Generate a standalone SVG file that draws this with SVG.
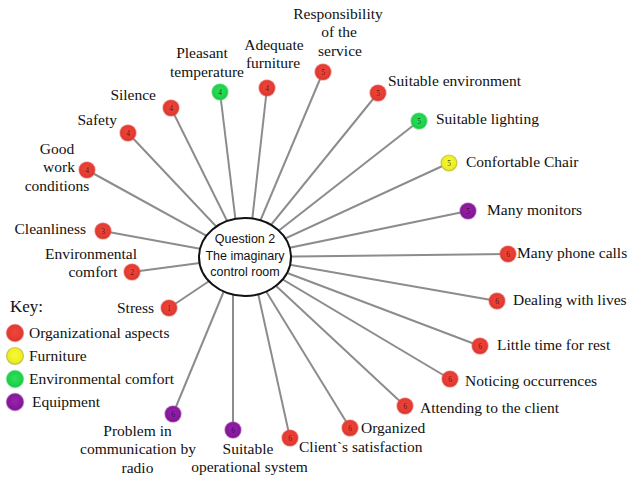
<svg xmlns="http://www.w3.org/2000/svg" width="628" height="479" viewBox="0 0 628 479">
<style>
.conn{stroke:#8c8c8c;stroke-width:2;fill:none}
text.lbl{font-family:'Liberation Serif','Times New Roman',Times,serif;font-size:15.5px;fill:#111}
text.num{font-family:'Liberation Serif',Times,serif;font-size:7.5px;text-anchor:middle}
.red{fill:url(#gRed);stroke:#e9554d;stroke-opacity:0.5;stroke-width:1.5}
.grn{fill:url(#gGrn);stroke:#3ee06a;stroke-opacity:0.5;stroke-width:1.5}
.yel{fill:url(#gYel);stroke:#b8b840;stroke-opacity:0.7;stroke-width:1.2}
.pur{fill:url(#gPur);stroke:#9a3aaa;stroke-opacity:0.5;stroke-width:1.5}
.nr{fill:#6a1010}.ng{fill:#0a4a1a}.ny{fill:#4a4a00}.np{fill:#3a0a40}
text.ctr{font-family:'Liberation Sans',Arial,sans-serif;font-size:12.5px;fill:#111;text-anchor:middle}
</style>
<defs>
<radialGradient id="gRed" cx="50%" cy="45%" r="55%"><stop offset="0" stop-color="#f0473c"/><stop offset="0.75" stop-color="#e33a31"/><stop offset="1" stop-color="#c8322c"/></radialGradient>
<radialGradient id="gGrn" cx="50%" cy="45%" r="55%"><stop offset="0" stop-color="#2fe05a"/><stop offset="0.75" stop-color="#1ed04a"/><stop offset="1" stop-color="#18b840"/></radialGradient>
<radialGradient id="gYel" cx="50%" cy="45%" r="55%"><stop offset="0" stop-color="#f8f83a"/><stop offset="0.75" stop-color="#eeee22"/><stop offset="1" stop-color="#d4d41e"/></radialGradient>
<radialGradient id="gPur" cx="50%" cy="45%" r="55%"><stop offset="0" stop-color="#9a22aa"/><stop offset="0.75" stop-color="#86189a"/><stop offset="1" stop-color="#701088"/></radialGradient>
</defs>
<rect width="628" height="479" fill="#fff"/>
<g id="connectors">
<line class="conn" x1="169" y1="308" x2="245" y2="257"/>
<line class="conn" x1="132" y1="272" x2="245" y2="257"/>
<line class="conn" x1="103" y1="231" x2="245" y2="257"/>
<line class="conn" x1="87" y1="170" x2="245" y2="257"/>
<line class="conn" x1="128" y1="133" x2="245" y2="257"/>
<line class="conn" x1="171" y1="108" x2="245" y2="257"/>
<line class="conn" x1="220" y1="92" x2="240" y2="257"/>
<line class="conn" x1="267" y1="88" x2="248" y2="257"/>
<line class="conn" x1="323" y1="72" x2="245" y2="257"/>
<line class="conn" x1="378" y1="93" x2="245" y2="257"/>
<line class="conn" x1="419" y1="121" x2="245" y2="257"/>
<line class="conn" x1="449" y1="163" x2="245" y2="257"/>
<line class="conn" x1="468" y1="211" x2="245" y2="257"/>
<line class="conn" x1="508" y1="254" x2="245" y2="257"/>
<line class="conn" x1="497" y1="301" x2="245" y2="257"/>
<line class="conn" x1="480" y1="346" x2="245" y2="257"/>
<line class="conn" x1="450" y1="379" x2="245" y2="257"/>
<line class="conn" x1="405" y1="406" x2="245" y2="257"/>
<line class="conn" x1="350" y1="428" x2="245" y2="257"/>
<line class="conn" x1="290" y1="438" x2="250" y2="257"/>
<line class="conn" x1="233" y1="430" x2="233" y2="257"/>
<line class="conn" x1="173" y1="414" x2="238" y2="257"/>
</g>
<g id="center">
<ellipse cx="245" cy="257" rx="46" ry="39" fill="#fff" stroke="#111" stroke-width="2"/>
<text class="ctr" x="245" y="243">Question 2</text>
<text class="ctr" x="245" y="260">The imaginary</text>
<text class="ctr" x="245" y="276">control room</text>
</g>
<g font-family="Liberation Serif, Times New Roman, serif">
<g id="n-stress"><circle class="red" cx="169" cy="308" r="8"/><text class="num nr" x="169" y="310.5">1</text><text class="lbl" x="154" y="313" text-anchor="end">Stress</text></g>
<g id="n-envcomfort"><circle class="red" cx="132" cy="272" r="8"/><text class="num nr" x="132" y="274.5">2</text><text class="lbl" x="91" y="259" text-anchor="middle">Environmental</text><text class="lbl" x="93" y="277" text-anchor="middle">comfort</text></g>
<g id="n-cleanliness"><circle class="red" cx="103" cy="231" r="8"/><text class="num nr" x="103" y="233.5">3</text><text class="lbl" x="86" y="234" text-anchor="end">Cleanliness</text></g>
<g id="n-goodwork"><circle class="red" cx="87" cy="170" r="8"/><text class="num nr" x="87" y="172.5">4</text><text class="lbl" x="57" y="154" text-anchor="middle">Good</text><text class="lbl" x="59" y="172" text-anchor="middle">work</text><text class="lbl" x="57" y="191" text-anchor="middle">conditions</text></g>
<g id="n-safety"><circle class="red" cx="128" cy="133" r="8"/><text class="num nr" x="128" y="135.5">4</text><text class="lbl" x="117" y="125" text-anchor="end">Safety</text></g>
<g id="n-silence"><circle class="red" cx="171" cy="108" r="8"/><text class="num nr" x="171" y="110.5">4</text><text class="lbl" x="156" y="100" text-anchor="end">Silence</text></g>
<g id="n-pleasant"><circle class="grn" cx="220" cy="92" r="8"/><text class="num ng" x="220" y="94.5">4</text><text class="lbl" x="202" y="58" text-anchor="middle">Pleasant</text><text class="lbl" x="207" y="77" text-anchor="middle">temperature</text></g>
<g id="n-furniture"><circle class="red" cx="267" cy="88" r="8"/><text class="num nr" x="267" y="90.5">4</text><text class="lbl" x="274" y="50" text-anchor="middle">Adequate</text><text class="lbl" x="273" y="68" text-anchor="middle">furniture</text></g>
<g id="n-responsibility"><circle class="red" cx="323" cy="72" r="8"/><text class="num nr" x="323" y="74.5">5</text><text class="lbl" x="338" y="19" text-anchor="middle">Responsibility</text><text class="lbl" x="339" y="37" text-anchor="middle">of the</text><text class="lbl" x="340" y="56" text-anchor="middle">service</text></g>
<g id="n-suitenv"><circle class="red" cx="378" cy="93" r="8"/><text class="num nr" x="378" y="95.5">5</text><text class="lbl" x="388" y="86">Suitable environment</text></g>
<g id="n-lighting"><circle class="grn" cx="419" cy="121" r="8"/><text class="num ng" x="419" y="123.5">5</text><text class="lbl" x="436" y="124">Suitable lighting</text></g>
<g id="n-chair"><circle class="yel" cx="449" cy="163" r="8"/><text class="num ny" x="449" y="165.5">5</text><text class="lbl" x="466" y="167">Confortable Chair</text></g>
<g id="n-monitors"><circle class="pur" cx="468" cy="211" r="8"/><text class="num np" x="468" y="213.5">5</text><text class="lbl" x="487" y="215">Many monitors</text></g>
<g id="n-phone"><circle class="red" cx="508" cy="254" r="8"/><text class="num nr" x="508" y="256.5">6</text><text class="lbl" x="517" y="258">Many phone calls</text></g>
<g id="n-lives"><circle class="red" cx="497" cy="301" r="8"/><text class="num nr" x="497" y="303.5">6</text><text class="lbl" x="513" y="305">Dealing with lives</text></g>
<g id="n-rest"><circle class="red" cx="480" cy="346" r="8"/><text class="num nr" x="480" y="348.5">6</text><text class="lbl" x="497" y="350">Little time for rest</text></g>
<g id="n-noticing"><circle class="red" cx="450" cy="379" r="8"/><text class="num nr" x="450" y="381.5">6</text><text class="lbl" x="465" y="386">Noticing occurrences</text></g>
<g id="n-attending"><circle class="red" cx="405" cy="406" r="8"/><text class="num nr" x="405" y="408.5">6</text><text class="lbl" x="420" y="413">Attending to the client</text></g>
<g id="n-organized"><circle class="red" cx="350" cy="428" r="8"/><text class="num nr" x="350" y="430.5">6</text><text class="lbl" x="361" y="433">Organized</text></g>
<g id="n-client"><circle class="red" cx="290" cy="438" r="8"/><text class="num nr" x="290" y="440.5">6</text><text class="lbl" x="299" y="452">Client`s satisfaction</text></g>
<g id="n-opsystem"><circle class="pur" cx="233" cy="430" r="8"/><text class="num np" x="233" y="432.5">6</text><text class="lbl" x="248" y="454" text-anchor="middle">Suitable</text><text class="lbl" x="249.5" y="472" text-anchor="middle">operational system</text></g>
<g id="n-radio"><circle class="pur" cx="173" cy="414" r="8"/><text class="num np" x="173" y="416.5">6</text><text class="lbl" x="137.5" y="436" text-anchor="middle">Problem in</text><text class="lbl" x="138" y="454" text-anchor="middle">communication by</text><text class="lbl" x="137.5" y="473" text-anchor="middle">radio</text></g>
<g id="key">
<text class="lbl" x="10" y="312" style="font-size:17px">Key:</text>
<circle class="red" cx="15" cy="333" r="8.5"/><text class="lbl" x="29" y="338">Organizational aspects</text>
<circle class="yel" cx="15" cy="356" r="8.5"/><text class="lbl" x="29" y="361">Furniture</text>
<circle class="grn" cx="15" cy="379" r="8.5"/><text class="lbl" x="29" y="384">Environmental comfort</text>
<circle class="pur" cx="15" cy="402" r="8.5"/><text class="lbl" x="32" y="407">Equipment</text>
</g>
</g>
</svg>
